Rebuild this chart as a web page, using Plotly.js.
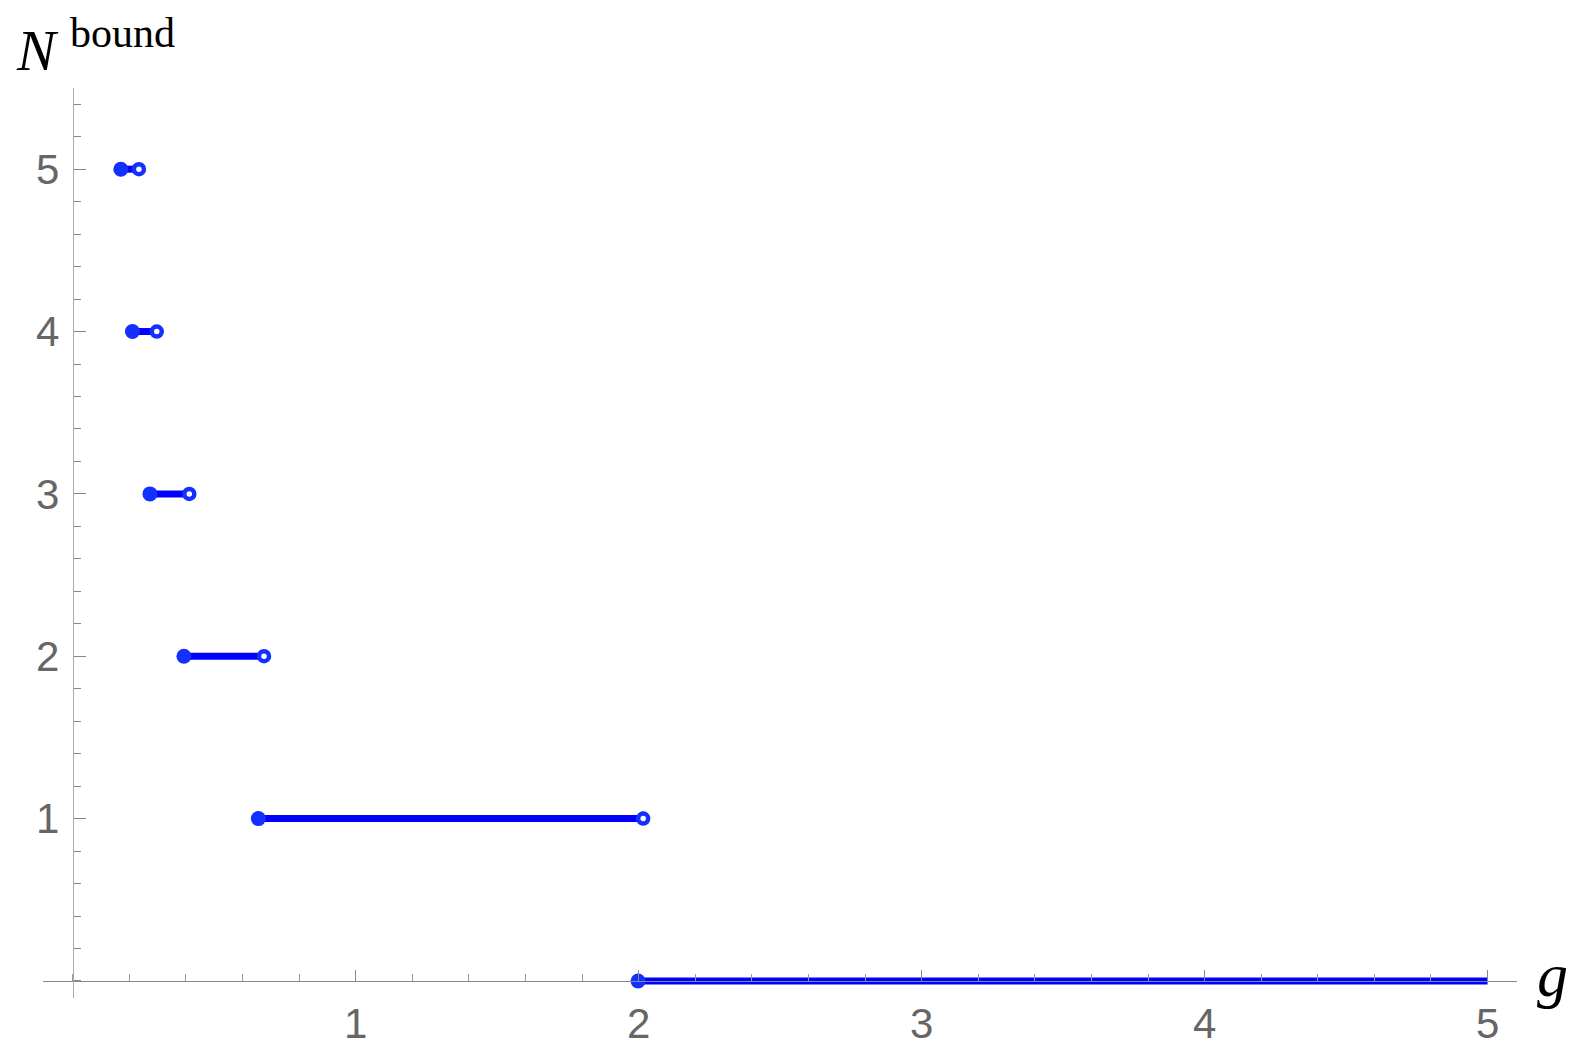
<!DOCTYPE html>
<html>
<head>
<meta charset="utf-8">
<script src="https://cdn.plot.ly/plotly-3.0.1.min.js"></script>
<style>
  html, body { margin: 0; padding: 0; background: #fff; }
  #plot { width: 1578px; height: 1046px; }
</style>
</head>
<body>
<div id="plot"></div>
<script>
// number of bound states N on each interval [start, end) of g
var counts = [5, 4, 3, 2, 1, 0];
var starts = [0.170, 0.211, 0.273, 0.393, 0.656, 1.998];
var ends   = [0.234, 0.297, 0.412, 0.676, 2.016, 5.0];
// open (excluded) end points only where the count changes
var openX = [0.234, 0.297, 0.412, 0.676, 2.016];
var openY = [5, 4, 3, 2, 1];

var tickVals = [1, 2, 3, 4, 5];

var blue = '#0000ff';
var dotBlue = '#1430ff';

var data = [];
for (var i = 0; i < counts.length; i++) {
    data.push({
        x: [starts[i], ends[i]],
        y: [counts[i], counts[i]],
        mode: 'lines',
        line: {color: blue, width: 7},
        hoverinfo: 'skip'
    });
}
data.push({
    x: starts,
    y: counts,
    mode: 'markers',
    marker: {color: dotBlue, size: 15}
});
data.push({
    x: openX,
    y: openY,
    mode: 'markers',
    marker: {color: '#ffffff', size: 10, line: {color: dotBlue, width: 4.5}}
});

var tickFont = {family: 'Liberation Sans, Arial, sans-serif', size: 42, color: '#666666'};

var layout = {
    width: 1578,
    height: 1046,
    showlegend: false,
    paper_bgcolor: '#ffffff',
    plot_bgcolor: '#ffffff',
    margin: {l: 43, r: 61, t: 88, b: 48},
    xaxis: {
        range: [-0.105, 5.104],
        anchor: 'free',
        position: 0.105 / 5.605,
        showgrid: false,
        zeroline: false,
        showline: true,
        linecolor: '#888888',
        linewidth: 1,
        ticks: 'inside',
        ticklen: 11,
        tickwidth: 1,
        tickcolor: '#888888',
        tickvals: tickVals,
        ticktext: tickVals.map(String),
        tickfont: tickFont,
        ticklabelstandoff: 6,
        minor: {dtick: 0.2, tick0: 0, ticks: 'inside', ticklen: 7, tickcolor: '#999999', tickwidth: 1, showgrid: false}
    },
    yaxis: {
        range: [-0.105, 5.5],
        anchor: 'free',
        position: 0.105 / 5.209,
        showgrid: false,
        zeroline: false,
        showline: true,
        linecolor: '#aaaaaa',
        linewidth: 1.5,
        ticks: 'inside',
        ticklen: 12,
        tickwidth: 1,
        tickcolor: '#888888',
        tickvals: tickVals,
        ticktext: tickVals.map(String),
        tickfont: tickFont,
        ticklabelstandoff: 5,
        minor: {dtick: 0.2, tick0: 0, ticks: 'inside', ticklen: 7, tickcolor: '#888888', tickwidth: 1, showgrid: false}
    },
    annotations: [
        {
            text: '<i>N</i>',
            xref: 'paper', yref: 'paper',
            x: -0.0195, y: 1.079,
            xanchor: 'left', yanchor: 'top',
            showarrow: false,
            font: {family: 'Liberation Serif, DejaVu Serif, serif', size: 58, color: '#000000'}
        },
        {
            text: 'bound',
            xref: 'paper', yref: 'paper',
            x: 0.017, y: 1.088,
            xanchor: 'left', yanchor: 'top',
            showarrow: false,
            font: {family: 'Liberation Serif, DejaVu Serif, serif', size: 42, color: '#000000'}
        },
        {
            text: '<i>g</i>',
            xref: 'paper', yref: 'paper',
            x: 1.012, y: 0.025,
            xanchor: 'left', yanchor: 'middle',
            showarrow: false,
            font: {family: 'Liberation Serif, DejaVu Serif, serif', size: 62, color: '#000000'}
        }
    ]
};

Plotly.newPlot('plot', data, layout, {staticPlot: true});
</script>
</body>
</html>
